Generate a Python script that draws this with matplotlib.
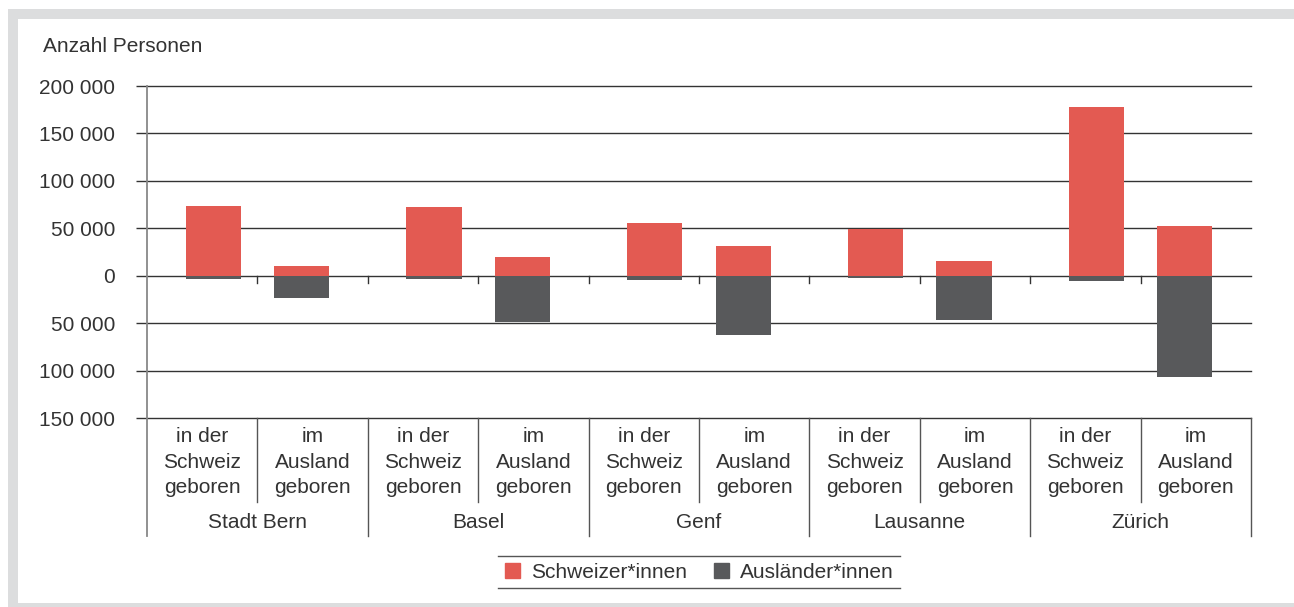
import matplotlib.pyplot as plt
from matplotlib.lines import Line2D
from matplotlib.patches import Patch, Rectangle

plt.rcParams["font.family"] = ["Liberation Sans", "DejaVu Sans"]

# Daten (Anzahl Personen), Ausländer*innen nach unten
cities = ["Stadt Bern", "Basel", "Genf", "Lausanne", "Zürich"]
birth_labels = ["in der\nSchweiz\ngeboren", "im\nAusland\ngeboren"]
schweizer = [74000, 10500, 72000, 19500, 55500, 31000, 49500, 16000, 178000, 52000]
auslaender = [-3000, -24000, -3500, -49000, -4200, -62000, -2500, -47000, -5600, -107000]
yticks = [200000, 150000, 100000, 50000, 0, -50000, -100000, -150000]

RED = "#e35a52"
DARK = "#58595b"
TXT = "#333333"
FS = 15
W, H = 1294, 607

fig = plt.figure(figsize=(W / 100, H / 100), dpi=100)

# grauer Rahmen
for x0, y0, w, h in [(8, 9, W - 8, 10), (8, 9, 10, H - 9), (8, 603, W - 8, 4)]:
    fig.patches.append(Rectangle((x0 / W, 1 - (y0 + h) / H), w / W, h / H,
                                 transform=fig.transFigure, color="#dcddde", lw=0))

L, R, T, B = 147, 1251, 86, 418
ax = fig.add_axes([L / W, 1 - B / H, (R - L) / W, (B - T) / H])
ax.set_xlim(0, 10)
ax.set_ylim(-150000, 200000)

n = len(schweizer)
xs = [i + 0.5 + (0.1 if i % 2 == 0 else -0.1) for i in range(n)]
ax.bar(xs, schweizer, width=0.5, color=RED, zorder=3)
ax.bar(xs, auslaender, width=0.5, color=DARK, zorder=3)

for y in yticks:
    ax.axhline(y, color="#333333", lw=1, zorder=1, clip_on=False)

ax.set_yticks(yticks)
ax.set_yticklabels([f"{abs(v):,}".replace(",", " ") for v in yticks],
                   fontsize=FS, color=TXT)
ax.tick_params(axis="y", length=8, width=1, color="#333333", pad=15)
ax.set_xticks([])
for s in ["top", "right", "bottom", "left"]:
    ax.spines[s].set_visible(False)

ppy = 350000 / (B - T)  # Daten pro Pixel
# kleine Striche an der Nulllinie
for k in range(1, n):
    ax.plot([k, k], [0, -7 * ppy], color="#333333", lw=1, zorder=4)

# Trennlinien im Beschriftungsbereich
xt = ax.get_xaxis_transform()
ah = B - T
ax.plot([0, 0], [1, -(536 - B) / ah], transform=xt, color="#888888", lw=1.3, clip_on=False)
for k in range(1, n + 1):
    low = 536 if k % 2 == 0 else 502
    ax.plot([k, k], [0, -(low - B) / ah], transform=xt, color="#555555", lw=1, clip_on=False)

for i in range(n):
    ax.text(i + 0.5, -(462 - B) / ah, birth_labels[i % 2], transform=xt,
            ha="center", va="center", fontsize=FS, color=TXT, linespacing=1.45)
for j, c in enumerate(cities):
    ax.text(2 * j + 1, -(522 - B) / ah, c, transform=xt,
            ha="center", va="center", fontsize=FS, color=TXT)

fig.text(43 / W, 1 - 47 / H, "Anzahl Personen", ha="left", va="center",
         fontsize=FS, color=TXT)

# Legende
for yy in (556, 588):
    fig.add_artist(Line2D([498 / W, 900 / W], [1 - yy / H, 1 - yy / H],
                          color="#555555", lw=1))
handles = [Patch(color=RED, label="Schweizer*innen"),
           Patch(color=DARK, label="Ausländer*innen")]
fig.legend(handles=handles, loc="center", bbox_to_anchor=(699 / W, 1 - 572 / H),
           ncol=2, frameon=False, fontsize=FS, handlelength=0.75, handleheight=0.75,
           handletextpad=0.5, columnspacing=1.3, labelcolor=TXT)

fig.savefig("out.png", dpi=100)
